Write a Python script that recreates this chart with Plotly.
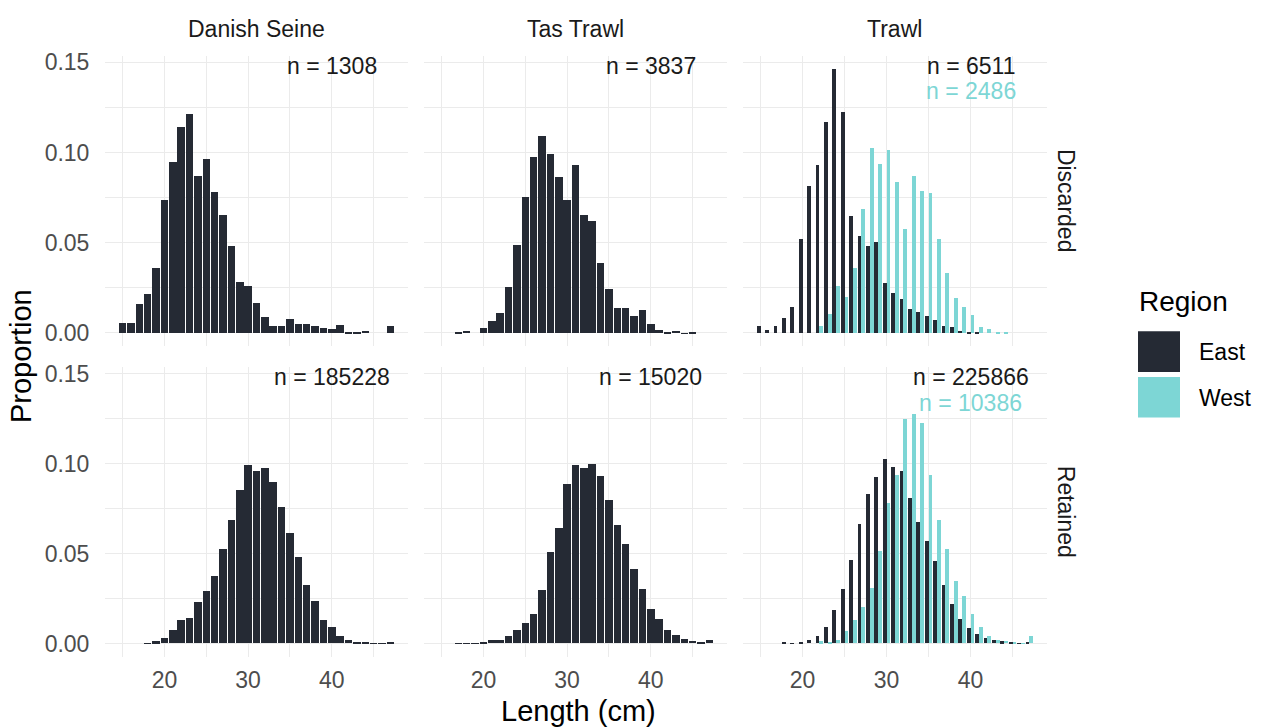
import plotly.graph_objects as go
from plotly.subplots import make_subplots

# ---------------- data ----------------
lengths = list(range(15, 48))  # 15 .. 47 cm
gears = ["Danish Seine", "Tas Trawl", "Trawl"]
fates = ["Discarded", "Retained"]
regions = ["East", "West"]

ds_discarded = [0.0057, 0.0060, 0.0164, 0.0220, 0.0362, 0.0737, 0.0948, 0.1143, 0.1219, 0.0873,
                0.0969, 0.0783, 0.0654, 0.0482, 0.0285, 0.0261, 0.0169, 0.0090, 0.0042, 0.0042,
                0.0081, 0.0050, 0.0050, 0.0039, 0.0031, 0.0024, 0.0048, 0.0009, 0.0009, 0.0015,
                0.0, 0.0, 0.0042]
ds_retained = [0.0, 0.0, 0.0, 0.0002, 0.0011, 0.0031, 0.0077, 0.0131, 0.0144, 0.0232,
               0.0293, 0.0378, 0.0527, 0.0685, 0.0855, 0.0995, 0.0962, 0.0974, 0.0899, 0.0757,
               0.0612, 0.0481, 0.0326, 0.0239, 0.0131, 0.0092, 0.0041, 0.0020, 0.0009, 0.0004,
               0.0002, 0.0002, 0.0006]
tt_discarded = [0.0, 0.0, 0.0004, 0.0015, 0.0, 0.0028, 0.0068, 0.0114, 0.0257, 0.0489,
                0.0757, 0.0976, 0.1094, 0.0993, 0.0868, 0.0741, 0.0932, 0.0654, 0.0625, 0.0392,
                0.0248, 0.0140, 0.0143, 0.0099, 0.0130, 0.0050, 0.0018, 0.0009, 0.0015, 0.0002,
                0.0007, 0.0, 0.0]
tt_retained = [0.0, 0.0, 0.0001, 0.0001, 0.0002, 0.0004, 0.0020, 0.0020, 0.0039, 0.0074,
               0.0112, 0.0162, 0.0297, 0.0510, 0.0641, 0.0886, 0.0995, 0.0974, 0.1000, 0.0932,
               0.0798, 0.0659, 0.0553, 0.0416, 0.0304, 0.0193, 0.0138, 0.0077, 0.0046, 0.0024,
               0.0013, 0.0009, 0.0017]
trawl_east_discarded = [0.0039, 0.0018, 0.0039, 0.0085, 0.0147, 0.0526, 0.0816, 0.0936, 0.1171, 0.1465,
                        0.1228, 0.0652, 0.0539, 0.0487, 0.0509, 0.0278, 0.0226, 0.0189, 0.0134, 0.0121,
                        0.0097, 0.0072, 0.0039, 0.0033, 0.0015, 0.0004, 0.0006, 0.0, 0.0, 0.0,
                        0.0, 0.0, 0.0]
trawl_west_discarded = [0.0, 0.0, 0.0, 0.0, 0.0, 0.0, 0.0, 0.0039, 0.0110, 0.0265,
                        0.0200, 0.0362, 0.0691, 0.1026, 0.0939, 0.1016, 0.0842, 0.0579, 0.0875, 0.0792,
                        0.0777, 0.0522, 0.0333, 0.0199, 0.0145, 0.0101, 0.0035, 0.0024, 0.0007, 0.0004,
                        0.0, 0.0, 0.0]
trawl_east_retained = [0.0, 0.0, 0.0, 0.0006, 0.0002, 0.0003, 0.0020, 0.0044, 0.0094, 0.0184,
                       0.0304, 0.0464, 0.0665, 0.0829, 0.0925, 0.1028, 0.0982, 0.0962, 0.0809, 0.0678,
                       0.0569, 0.0460, 0.0326, 0.0221, 0.0138, 0.0085, 0.0050, 0.0028, 0.0022, 0.0011,
                       0.0006, 0.0002, 0.0007]
trawl_west_retained = [0.0, 0.0, 0.0, 0.0, 0.0, 0.0, 0.0, 0.0011, 0.0008, 0.0020,
                       0.0072, 0.0133, 0.0203, 0.0309, 0.0514, 0.0783, 0.0938, 0.1251, 0.1278, 0.1227,
                       0.0938, 0.0687, 0.0525, 0.0346, 0.0262, 0.0164, 0.0092, 0.0039, 0.0020, 0.0013,
                       0.0006, 0.0002, 0.0039]

n_east = {("Danish Seine", "Discarded"): 1308, ("Tas Trawl", "Discarded"): 3837, ("Trawl", "Discarded"): 6511,
          ("Danish Seine", "Retained"): 185228, ("Tas Trawl", "Retained"): 15020, ("Trawl", "Retained"): 225866}
n_west = {("Trawl", "Discarded"): 2486, ("Trawl", "Retained"): 10386}

x_ticks = [20, 30, 40]
y_ticks = [0.0, 0.05, 0.10, 0.15]
y_tick_text = ["0.00", "0.05", "0.10", "0.15"]

panels = {
    ("Danish Seine", "Discarded"): {"East": ds_discarded},
    ("Tas Trawl", "Discarded"): {"East": tt_discarded},
    ("Trawl", "Discarded"): {"East": trawl_east_discarded, "West": trawl_west_discarded},
    ("Danish Seine", "Retained"): {"East": ds_retained},
    ("Tas Trawl", "Retained"): {"East": tt_retained},
    ("Trawl", "Retained"): {"East": trawl_east_retained, "West": trawl_west_retained},
}

# ---------------- style ----------------
EAST = "#252A34"
WEST = "#7DD6D5"
GRID = "#EBEBEB"
FONT = "Liberation Sans, Arial, sans-serif"
W, H = 1263, 727

def px_x(p):
    return p / W

def px_y(p):
    return 1 - p / H

x_domains = [(105, 408), (424, 727), (743, 1047)]
y_domains = [(50, 343), (364, 656)]

fig = make_subplots(rows=2, cols=3)

for r, fate in enumerate(fates):
    for c, gear in enumerate(gears):
        idx = r * 3 + c + 1
        series = panels[(gear, fate)]
        if len(series) == 1:
            fig.add_trace(go.Bar(x=lengths, y=series["East"], width=0.9,
                                 marker=dict(color=EAST, line=dict(width=0)),
                                 showlegend=False, name="East"), row=r + 1, col=c + 1)
        else:
            fig.add_trace(go.Bar(x=lengths, y=series["East"], width=0.45, offset=-0.45,
                                 marker=dict(color=EAST, line=dict(width=0)),
                                 showlegend=False, name="East"), row=r + 1, col=c + 1)
            fig.add_trace(go.Bar(x=lengths, y=series["West"], width=0.45, offset=0.0,
                                 marker=dict(color=WEST, line=dict(width=0)),
                                 showlegend=False, name="West"), row=r + 1, col=c + 1)

        xa = "xaxis" if idx == 1 else f"xaxis{idx}"
        ya = "yaxis" if idx == 1 else f"yaxis{idx}"
        xd, yd = x_domains[c], y_domains[r]
        fig.layout[xa].update(
            domain=[px_x(xd[0]), px_x(xd[1])], range=[12.9, 49.1],
            tickmode="array", tickvals=x_ticks, showticklabels=(r == 1),
            ticks="outside", ticklen=3, tickcolor="rgba(0,0,0,0)",
            tickfont=dict(family=FONT, size=23, color="#4D4D4D"),
            showgrid=True, gridcolor=GRID, gridwidth=1.2,
            minor=dict(tickmode="array", tickvals=[15, 25, 35, 45], showgrid=True,
                       gridcolor=GRID, gridwidth=0.7),
            zeroline=False, showline=False, fixedrange=True)
        fig.layout[ya].update(
            domain=[px_y(yd[1]), px_y(yd[0])], range=[-0.0073, 0.1538],
            tickmode="array", tickvals=y_ticks, ticktext=y_tick_text, showticklabels=(c == 0),
            ticks="outside", ticklen=10, tickcolor="rgba(0,0,0,0)",
            tickfont=dict(family=FONT, size=23, color="#4D4D4D"),
            showgrid=True, gridcolor=GRID, gridwidth=1.2,
            minor=dict(tickmode="array", tickvals=[0.025, 0.075, 0.125], showgrid=True,
                       gridcolor=GRID, gridwidth=0.7),
            zeroline=False, showline=False, fixedrange=True)

        xref = "x" if idx == 1 else f"x{idx}"
        yref = "y" if idx == 1 else f"y{idx}"
        fig.add_annotation(x=40, y=0.148, xref=xref, yref=yref, text=f"n = {n_east[(gear, fate)]}",
                           showarrow=False, xanchor="center", yanchor="middle",
                           font=dict(family=FONT, size=23, color="#1A1A1A"))
        if (gear, fate) in n_west:
            fig.add_annotation(x=40, y=0.134, xref=xref, yref=yref, text=f"n = {n_west[(gear, fate)]}",
                               showarrow=False, xanchor="center", yanchor="middle",
                               font=dict(family=FONT, size=23, color=WEST))

# strip labels (top)
for c, gear in enumerate(gears):
    xd = x_domains[c]
    fig.add_annotation(x=px_x((xd[0] + xd[1]) / 2), y=px_y(23), xref="paper", yref="paper",
                       text=gear, showarrow=False, xanchor="center", yanchor="middle",
                       font=dict(family=FONT, size=23, color="#1A1A1A"))
# strip labels (right)
for r, fate in enumerate(fates):
    yd = y_domains[r]
    fig.add_annotation(x=px_x(1066), y=px_y((yd[0] + yd[1]) / 2), xref="paper", yref="paper",
                       text=fate, showarrow=False, textangle=90, xanchor="center", yanchor="middle",
                       font=dict(family=FONT, size=23, color="#1A1A1A"))

# axis titles
fig.add_annotation(x=px_x(578), y=px_y(711), xref="paper", yref="paper",
                   text="Length (cm)", showarrow=False, xanchor="center", yanchor="middle",
                   font=dict(family=FONT, size=29, color="#000000"))
fig.add_annotation(x=px_x(21), y=px_y((y_domains[0][0] + y_domains[1][1]) / 2), xref="paper", yref="paper",
                   text="Proportion", showarrow=False, textangle=-90, xanchor="center", yanchor="middle",
                   font=dict(family=FONT, size=29, color="#000000"))

# legend (drawn manually to match ggplot key size)
fig.add_annotation(x=px_x(1137), y=px_y(298), xref="paper", yref="paper", text="Region",
                   showarrow=False, xanchor="left", yanchor="middle",
                   font=dict(family=FONT, size=28, color="#000000"))
legend_keys = [(regions[0], EAST, 328), (regions[1], WEST, 374)]
for name, col, top in legend_keys:
    fig.add_shape(type="rect", xref="paper", yref="paper",
                  x0=px_x(1138), x1=px_x(1180), y0=px_y(top + 41), y1=px_y(top),
                  fillcolor=col, line=dict(width=0))
    fig.add_annotation(x=px_x(1197), y=px_y(top + 21), xref="paper", yref="paper", text=name,
                       showarrow=False, xanchor="left", yanchor="middle",
                       font=dict(family=FONT, size=23, color="#000000"))

fig.update_layout(width=W, height=H, margin=dict(l=0, r=0, t=0, b=0),
                  paper_bgcolor="white", plot_bgcolor="white", barmode="overlay",
                  showlegend=False, bargap=0, hovermode=False)

fig.write_html("out.html", config={"displayModeBar": False},
               post_script="document.body.style.margin='0px';")
